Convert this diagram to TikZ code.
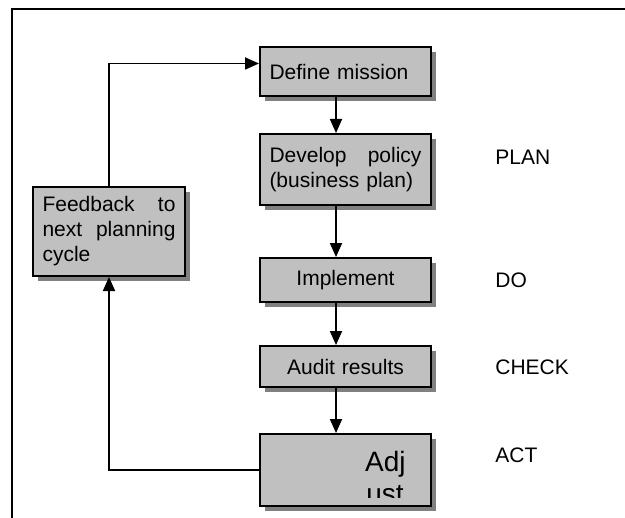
\documentclass[tikz,border=0pt]{standalone}
\usepackage{fontspec}
\setmainfont{Liberation Sans}
\usepackage{tikz}
\usetikzlibrary{arrows.meta}
\usetikzlibrary{shadows}

\definecolor{boxgray}{RGB}{192,192,192}
\definecolor{shadowgray}{RGB}{128,128,128}

\begin{document}
\begin{tikzpicture}[x=0.5pt,y=-0.5pt,
    font=\fontsize{10.5}{12.5}\selectfont,
    stepbox/.style={draw, line width=1pt, fill=boxgray, inner xsep=4.5pt, inner ysep=0pt,
      drop shadow={shadow xshift=2.5pt, shadow yshift=-2.5pt, fill=shadowgray, opacity=1}},
    flow/.style={line width=0.9pt, -{Triangle[length=7pt,width=6pt]}},
    phase/.style={anchor=west, inner sep=0pt}]
      \useasboundingbox (0,0) rectangle (625,518);
      \draw[line width=1pt] (12,518) -- (12,9) -- (625,9);

      \node[stepbox, text width=76pt, align=left, minimum width=85.5pt, minimum height=24.5pt] (mission) at (345.5,71.5) {Define mission};
      \node[stepbox, text width=76pt, align=left, minimum width=85.5pt, minimum height=35.5pt] (policy) at (345.5,169.5) {Develop\hfill policy\\(business plan)};
      \node[stepbox, text width=76pt, align=center, minimum width=85.5pt, minimum height=22pt] (implement) at (345.5,280) {Implement};
      \node[stepbox, text width=76pt, align=center, minimum width=85.5pt, minimum height=20.5pt] (audit) at (345.5,366.5) {Audit results};
      \node[stepbox, minimum width=85.5pt, minimum height=36pt] (adjust) at (345.5,470) {};
      \node[stepbox, text width=66.5pt, align=left, minimum width=76pt, minimum height=44.5pt] (feedback) at (109,231.5) {Feedback\hfill to\\next\hfill planning\\cycle};

      \begin{scope}
        \clip (262,436) rectangle (429,497);
        \node[font=\fontsize{14}{16}\selectfont, anchor=base east, inner sep=0pt] (adj) at (406,471.7) {Adj};
        \node[font=\fontsize{14}{16}\selectfont, anchor=base east, inner sep=0pt] (ust) at (404,503.5) {ust};
      \end{scope}

      \draw[flow] ([xshift=-4.75pt]mission.south) -- ([xshift=-4.75pt]policy.north);
      \draw[flow] ([xshift=-4.75pt]policy.south) -- ([xshift=-4.75pt]implement.north);
      \draw[flow] ([xshift=-4.75pt]implement.south) -- ([xshift=-4.75pt]audit.north);
      \draw[flow] ([xshift=-4.75pt]audit.south) -- ([xshift=-4.75pt]adjust.north);
      \draw[flow] (feedback.north) |- ([yshift=4pt]mission.west);
      \draw[flow] (adjust.west) -| (feedback.south);

      \node[phase] (plan) at (495,157) {PLAN};
      \node[phase] (do) at (495,280) {DO};
      \node[phase] (check) at (495,367) {CHECK};
      \node[phase] (act) at (495,455) {ACT};
  \end{tikzpicture}
\end{document}
